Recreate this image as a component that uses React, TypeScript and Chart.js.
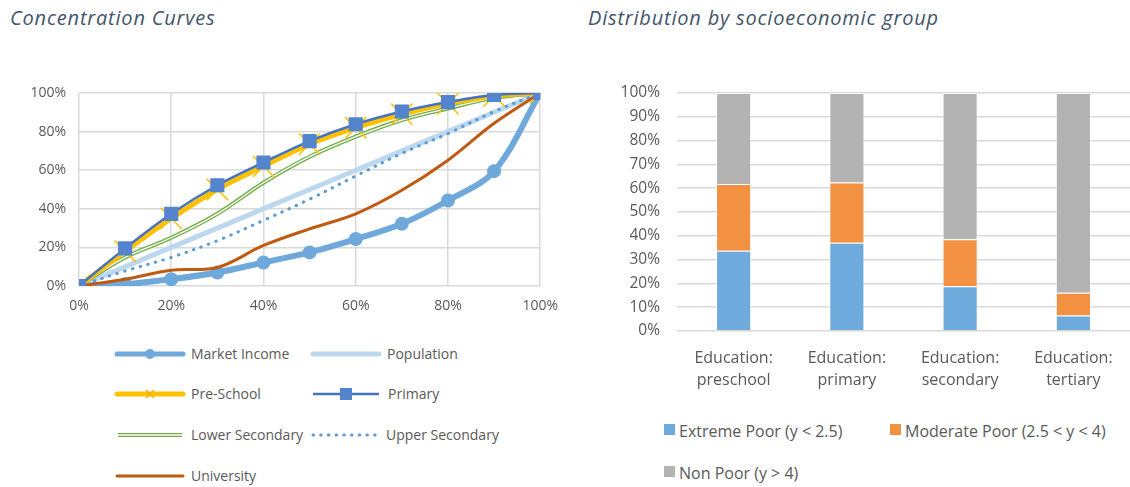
import React, { useEffect, useRef } from 'react';
import { Chart, registerables } from 'chart.js';
Chart.register(...registerables);

// ---------- Concentration curves ----------
const populationShares = [0, 0.1, 0.2, 0.3, 0.4, 0.5, 0.6, 0.7, 0.8, 0.9, 1.0];
const marketIncome = [0, 0.009, 0.035, 0.07, 0.122, 0.174, 0.243, 0.322, 0.443, 0.595, 1.0];
const population = [0, 0.1, 0.2, 0.3, 0.4, 0.5, 0.6, 0.7, 0.8, 0.9, 1.0];
const preSchool = [0, 0.18, 0.35, 0.5, 0.62, 0.735, 0.82, 0.89, 0.945, 0.985, 1.0];
const primary = [0, 0.195, 0.374, 0.522, 0.64, 0.751, 0.838, 0.904, 0.953, 0.99, 1.0];
const lowerSecondary = [0, 0.148, 0.25, 0.374, 0.535, 0.67, 0.774, 0.86, 0.92, 0.975, 1.0];
const upperSecondary = [0, 0.078, 0.148, 0.235, 0.34, 0.45, 0.57, 0.687, 0.79, 0.904, 1.0];
const university = [0, 0.035, 0.082, 0.096, 0.21, 0.296, 0.374, 0.496, 0.652, 0.843, 1.0];

// ---------- Distribution by socioeconomic group ----------
const groups = [
  ['Education:', 'preschool'],
  ['Education:', 'primary'],
  ['Education:', 'secondary'],
  ['Education:', 'tertiary'],
];
const extremePoor = [0.337, 0.371, 0.188, 0.065];
const moderatePoor = [0.281, 0.253, 0.197, 0.096];
const nonPoor = [0.382, 0.376, 0.615, 0.839];

const FONT = "'Open Sans', sans-serif";
const TEXT = '#595959';
const GRID = '#d9d9d9';

const pts = (ys: number[]) => ys.map((y, i) => ({ x: populationShares[i], y }));
const pct = (v: any) => Math.round(Number(v) * 100) + '%';

function LeftChart() {
  const ref = useRef<HTMLCanvasElement>(null);
  useEffect(() => {
    const chart = new Chart(ref.current!, {
      type: 'line',
      data: {
        datasets: [
          {
            label: 'Population', data: pts(population), borderColor: '#bdd7ee', borderWidth: 5,
            pointRadius: 0, tension: 0, order: 7,
          },
          {
            label: 'Upper Secondary', data: pts(upperSecondary), borderColor: '#5b9bd5', borderWidth: 3,
            borderDash: [0.5, 7.5], borderCapStyle: 'round', pointRadius: 0, tension: 0.35, order: 6,
          },
          {
            label: 'Lower Secondary', data: pts(lowerSecondary), borderColor: '#70ad47', borderWidth: 4,
            pointRadius: 0, tension: 0.35, order: 5,
          },
          {
            label: 'Lower Secondary inner', data: pts(lowerSecondary), borderColor: '#ffffff', borderWidth: 1.3,
            pointRadius: 0, tension: 0.35, order: 4.9,
          },
          {
            label: 'Market Income', data: pts(marketIncome), borderColor: '#6fa9dc', backgroundColor: '#6fa9dc',
            borderWidth: 6, pointRadius: 7, pointStyle: 'circle', pointBorderWidth: 0, tension: 0.35, order: 4,
          },
          {
            label: 'University', data: pts(university), borderColor: '#c05a12', borderWidth: 3,
            pointRadius: 0, tension: 0.35, order: 3,
          },
          {
            label: 'Pre-School', data: pts(preSchool), borderColor: '#ffc000', backgroundColor: '#ffc000',
            borderWidth: 5, pointRadius: 15, pointStyle: 'crossRot', pointBorderWidth: 1.5, pointBorderColor: '#ffc000',
            tension: 0.35, order: 2,
          },
          {
            label: 'Primary', data: pts(primary), borderColor: '#4472c4', backgroundColor: '#5584cf',
            borderWidth: 2.5, pointRadius: 10, pointStyle: 'rect', pointBorderWidth: 0, tension: 0.35, order: 1,
          },
        ] as any,
      },
      options: {
        animation: false,
        responsive: false,
        layout: { padding: { top: 33, right: 29, left: 0, bottom: 0 } },
        plugins: { legend: { display: false }, tooltip: { enabled: false } },
        scales: {
          x: {
            type: 'linear', min: 0, max: 1,
            ticks: { stepSize: 0.2, callback: pct, color: TEXT, font: { family: FONT, size: 14 }, padding: 12, maxRotation: 0 },
            grid: { color: GRID, lineWidth: 1.5, drawTicks: false },
            border: { display: false },
            afterFit: (s: any) => { s.height = 34; },
          },
          y: {
            min: 0, max: 1,
            ticks: { stepSize: 0.2, callback: pct, color: TEXT, font: { family: FONT, size: 14 }, padding: 13 },
            grid: { color: GRID, lineWidth: 1.5, drawTicks: false },
            border: { display: false },
            afterFit: (s: any) => { s.width = 79; },
          },
        },
      } as any,
    });
    return () => chart.destroy();
  }, []);
  return <canvas ref={ref} width={570} height={260} style={{ position: 'absolute', left: 0, top: 60, width: 570, height: 260 }} />;
}

function RightChart() {
  const ref = useRef<HTMLCanvasElement>(null);
  useEffect(() => {
    const common = { borderColor: 'rgba(255,255,255,0.7)', borderWidth: 1, barPercentage: 0.31, categoryPercentage: 1 };
    const chart = new Chart(ref.current!, {
      type: 'bar',
      data: {
        labels: groups as any,
        datasets: [
          { label: 'Extreme Poor (y < 2.5)', data: extremePoor, backgroundColor: '#6eaadc', ...common },
          { label: 'Moderate Poor (2.5 < y < 4)', data: moderatePoor, backgroundColor: '#f29141', ...common },
          { label: 'Non Poor (y > 4)', data: nonPoor, backgroundColor: '#b3b3b3', ...common },
        ],
      },
      options: {
        animation: false,
        responsive: false,
        layout: { padding: { top: 33, right: 0, left: 0, bottom: 0 } },
        plugins: { legend: { display: false }, tooltip: { enabled: false } },
        scales: {
          x: {
            stacked: true,
            ticks: { color: TEXT, font: { family: FONT, size: 16, lineHeight: 1.38 }, padding: 8, maxRotation: 0, autoSkip: false },
            grid: { display: false },
            border: { display: false },
            afterFit: (s: any) => { s.height = 69; },
          },
          y: {
            stacked: true, min: 0, max: 1,
            ticks: { stepSize: 0.1, callback: pct, color: TEXT, font: { family: FONT, size: 15.5 }, padding: 17 },
            grid: { color: GRID, lineWidth: 1.5, drawTicks: false },
            border: { display: false },
            afterFit: (s: any) => { s.width = 77; },
          },
        },
      } as any,
    });
    return () => chart.destroy();
  }, []);
  return <canvas ref={ref} width={530} height={340} style={{ position: 'absolute', left: 600, top: 60, width: 530, height: 340 }} />;
}

const legendText: React.CSSProperties = { position: 'absolute', fontFamily: FONT, fontSize: 14, color: TEXT, whiteSpace: 'nowrap', lineHeight: '18px' };

function Sample({ x, y, kind }: { x: number; y: number; kind: string }) {
  const w = 72;
  let content: React.ReactNode = null;
  if (kind === 'market') content = (<>
    <line x1={3} y1={10} x2={w - 3} y2={10} stroke="#6fa9dc" strokeWidth={5} strokeLinecap="round" />
    <circle cx={w / 2} cy={10} r={5} fill="#6fa9dc" /></>);
  if (kind === 'population') content = <line x1={3} y1={10} x2={w - 3} y2={10} stroke="#bdd7ee" strokeWidth={5} strokeLinecap="round" />;
  if (kind === 'preschool') content = (<>
    <line x1={3} y1={10} x2={w - 3} y2={10} stroke="#ffc000" strokeWidth={5} strokeLinecap="round" />
    <line x1={w / 2 - 4} y1={6} x2={w / 2 + 4} y2={14} stroke="#f0b000" strokeWidth={1.5} />
    <line x1={w / 2 - 4} y1={14} x2={w / 2 + 4} y2={6} stroke="#f0b000" strokeWidth={1.5} /></>);
  if (kind === 'primary') content = (<>
    <line x1={2} y1={10} x2={w - 4} y2={10} stroke="#4472c4" strokeWidth={2.5} />
    <rect x={w / 2 - 7} y={4} width={12} height={12} fill="#5584cf" /></>);
  if (kind === 'lower') content = (<>
    <line x1={4} y1={10} x2={w - 4} y2={10} stroke="#70ad47" strokeWidth={4} />
    <line x1={4} y1={10} x2={w - 4} y2={10} stroke="#ffffff" strokeWidth={1.3} /></>);
  if (kind === 'upper') content = <line x1={4} y1={10} x2={w - 4} y2={10} stroke="#5b9bd5" strokeWidth={3} strokeDasharray="0.5 7.2" strokeLinecap="round" />;
  if (kind === 'university') content = <line x1={3} y1={10} x2={w - 3} y2={10} stroke="#c05a12" strokeWidth={3} strokeLinecap="round" />;
  return <svg width={w} height={20} style={{ position: 'absolute', left: x, top: y - 10 }}>{content}</svg>;
}

function LeftLegend() {
  const rows: [string, string, number, number][] = [
    ['market', 'Market Income', 114, 354],
    ['population', 'Population', 310, 354],
    ['preschool', 'Pre-School', 114, 394],
    ['primary', 'Primary', 311, 394],
    ['lower', 'Lower Secondary', 114, 435],
    ['upper', 'Upper Secondary', 309, 435],
    ['university', 'University', 114, 476],
  ];
  return <>{rows.map(([k, t, x, y]) => (
    <React.Fragment key={k}>
      <Sample x={x} y={y} kind={k} />
      <div style={{ ...legendText, left: x + 77, top: y - 9 }}>{t}</div>
    </React.Fragment>
  ))}</>;
}

function RightLegend() {
  const items: [string, string, number, number][] = [
    ['#6eaadc', 'Extreme Poor (y < 2.5)', 664, 431],
    ['#f29141', 'Moderate Poor (2.5 < y < 4)', 890, 431],
    ['#b3b3b3', 'Non Poor (y > 4)', 664, 473],
  ];
  return <>{items.map(([c, t, x, y]) => (
    <React.Fragment key={t}>
      <div style={{ position: 'absolute', left: x, top: y - 7, width: 11, height: 11, background: c }} />
      <div style={{ ...legendText, fontSize: 16, left: x + 15, top: y - 11, lineHeight: '22px' }}>{t}</div>
    </React.Fragment>
  ))}</>;
}

const titleStyle: React.CSSProperties = {
  position: 'absolute', fontFamily: FONT, fontStyle: 'italic', fontSize: 20, letterSpacing: 0.8, color: '#44546a', whiteSpace: 'nowrap', lineHeight: '26px',
};

export default function App() {
  return (
    <div style={{ position: 'absolute', left: 0, top: 0, width: 1130, height: 487, background: '#ffffff', overflow: 'hidden' }}>
      <div style={{ ...titleStyle, left: 10, top: 5 }}>Concentration Curves</div>
      <div style={{ ...titleStyle, left: 588, top: 5 }}>Distribution by socioeconomic group</div>
      <LeftChart />
      <RightChart />
      <LeftLegend />
      <RightLegend />
    </div>
  );
}
